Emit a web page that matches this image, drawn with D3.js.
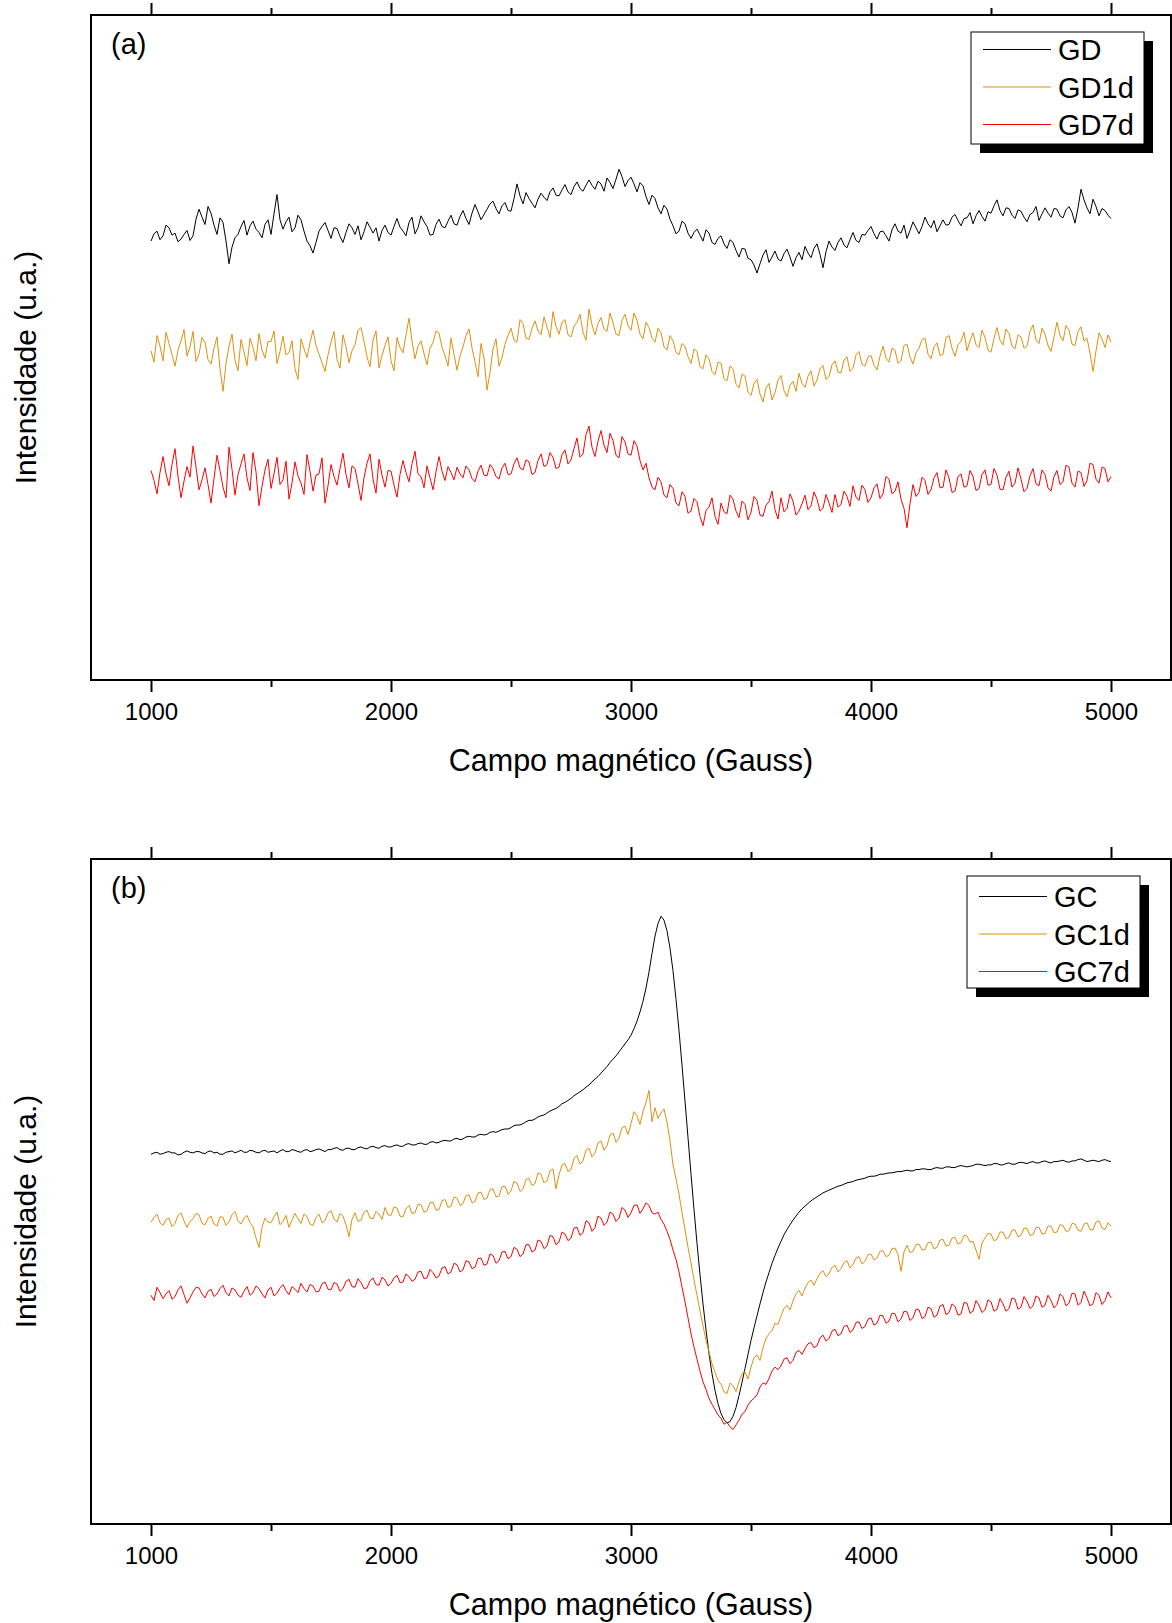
<!DOCTYPE html>
<html>
<head>
<meta charset="utf-8">
<script src="https://cdn.jsdelivr.net/npm/d3@7"></script>
<style>
  body { margin: 0; background: #fff; }
  svg text { font-family: Arial, "Liberation Sans", sans-serif; fill: #000; }
</style>
</head>
<body>
<svg id="chart" width="1172" height="1623"></svg>
<script>
// field sampled every 12.5 G, 1000..5000 (321 points)
var field = d3.range(1000, 5000.1, 12.5);
var xTicks = [1000, 2000, 3000, 4000, 5000];
var xMinor = [1500, 2500, 3500, 4500];

// panel (a) - arbitrary intensity units
var gd = [66.0,67.1,67.5,66.2,66.8,68.4,68.0,66.9,67.2,65.9,66.3,67.0,67.6,66.1,66.8,69.3,70.8,69.6,68.5,71.2,
  70.2,68.4,67.0,69.5,68.8,66.0,62.6,65.1,66.5,67.0,68.2,69.1,66.9,68.3,69.0,67.8,67.3,66.5,68.5,69.2,
  67.0,70.1,73.0,69.2,67.8,68.9,69.6,67.4,68.0,69.9,69.2,67.5,66.0,65.3,64.2,65.8,67.5,68.2,68.8,67.6,
  66.4,68.0,67.9,66.7,65.8,67.3,68.6,68.0,67.0,68.3,66.2,67.4,68.9,68.1,67.2,68.0,66.0,67.6,68.4,67.3,
  66.9,68.2,69.4,68.1,67.5,66.8,68.8,69.6,67.1,68.0,69.8,68.9,68.2,66.9,67.0,68.5,69.3,68.2,68.0,69.0,
  69.9,68.6,68.4,69.7,70.6,69.4,68.5,70.2,71.5,70.4,69.2,70.0,70.8,71.6,72.0,70.9,70.1,71.3,71.8,70.6,
  70.5,72.4,74.6,72.8,71.6,73.3,72.4,71.7,71.0,72.3,73.2,72.6,72.1,73.4,74.0,72.9,72.8,73.7,74.5,73.4,
  73.0,74.2,74.9,73.9,73.5,74.4,75.2,74.4,73.8,75.0,74.6,73.5,75.5,74.8,73.9,75.3,76.8,75.7,74.2,75.1,
  75.6,74.6,73.4,74.8,74.3,72.7,71.5,72.9,72.4,71.0,70.1,71.4,70.8,69.3,68.3,67.1,67.5,69.0,68.6,67.2,
  66.4,67.3,67.8,66.9,66.0,67.7,67.2,65.8,65.5,66.4,66.8,65.6,64.9,66.2,65.8,64.6,63.6,64.9,64.8,63.4,
  63.2,62.4,61.2,62.6,63.9,64.7,62.8,63.6,64.5,63.3,63.0,64.1,64.8,63.6,62.2,63.5,64.3,63.2,65.2,64.2,
  63.5,64.9,65.6,64.0,62.0,64.4,66.0,65.1,64.6,65.8,66.5,65.4,65.0,66.2,67.3,66.1,65.8,67.0,66.9,67.6,
  68.2,67.1,66.3,67.4,67.5,66.8,66.0,67.7,68.6,67.5,67.2,68.4,66.4,67.6,68.9,68.0,67.1,68.2,69.6,68.6,
  68.0,69.1,67.4,68.3,69.2,68.4,68.5,69.6,70.0,69.1,68.3,69.4,69.5,70.3,68.6,69.8,70.6,69.7,69.0,70.4,
  70.2,71.3,72.2,70.6,69.8,71.0,70.9,69.9,69.4,70.7,70.5,69.6,68.9,70.0,70.3,71.2,69.1,70.1,71.0,70.2,
  69.6,70.9,70.8,69.8,69.5,70.7,71.2,70.3,68.7,71.0,73.8,72.2,71.0,70.1,72.3,71.2,69.8,70.9,70.6,69.9,
  69.4];
var gd1d = [49.5,47.8,51.8,50.2,48.0,52.3,50.6,48.9,47.2,49.6,51.0,52.7,48.7,50.1,52.4,47.9,49.0,51.5,50.8,48.2,
  47.5,49.9,51.6,46.8,43.4,47.6,50.2,52.0,48.1,46.5,51.2,49.3,47.3,51.4,50.0,48.0,52.1,49.6,48.4,50.9,
  50.9,52.5,47.6,49.4,51.7,48.9,49.2,51.0,46.8,45.2,51.3,49.8,48.5,50.7,52.6,50.3,49.0,47.7,46.4,48.9,
  50.8,52.4,48.2,46.9,51.9,50.1,47.7,49.5,50.4,52.6,53.0,50.9,48.6,47.1,51.1,52.5,46.9,48.8,50.3,51.6,
  48.0,46.5,51.5,50.0,49.2,51.9,54.4,51.0,48.3,50.2,51.0,49.1,47.4,49.9,50.7,52.5,52.2,50.0,48.8,47.2,
  51.4,49.0,46.6,48.7,50.1,51.8,52.8,49.9,47.9,45.6,50.6,48.4,43.6,46.2,49.8,51.3,47.2,48.5,50.5,51.8,
  52.9,51.1,50.8,54.2,53.6,51.4,51.2,52.9,54.0,52.5,51.9,54.6,53.1,51.5,55.4,53.2,52.0,53.8,54.2,51.9,
  51.6,53.2,53.8,55.0,52.3,51.1,55.8,53.4,51.9,53.6,54.5,52.8,52.4,55.2,53.7,52.0,51.8,54.1,55.0,53.3,
  52.6,55.2,54.1,52.0,51.3,53.8,53.0,51.4,50.8,52.9,52.2,50.1,49.6,51.8,51.0,49.3,48.9,50.6,50.2,48.6,
  47.6,49.8,49.4,47.1,46.8,48.9,48.3,46.4,45.9,47.8,47.6,45.3,45.0,47.2,46.8,44.5,43.9,46.0,45.7,43.3,
  42.8,44.6,45.2,43.0,41.8,43.9,44.6,42.1,43.2,45.1,45.8,43.5,42.6,44.3,44.9,43.4,46.1,44.6,44.0,45.7,
  46.5,44.2,45.1,46.8,47.3,45.2,45.6,47.4,48.0,46.3,46.2,48.1,48.6,46.4,46.9,48.9,49.4,47.5,47.2,48.6,
  48.8,47.3,46.6,48.7,50.2,48.4,47.8,49.9,49.6,47.6,48.0,50.3,50.5,48.6,47.5,49.2,49.9,51.2,51.4,49.0,
  48.3,50.1,50.7,48.8,49.0,51.5,51.8,49.9,48.7,50.4,50.9,52.3,49.5,51.0,52.2,50.4,50.0,52.6,51.5,49.6,
  49.3,51.4,53.0,51.1,50.4,52.8,52.1,50.2,49.8,51.9,51.6,49.9,50.2,52.4,53.4,51.2,50.6,52.9,52.0,50.3,
  49.4,51.6,53.8,51.8,51.0,53.3,52.6,50.5,50.3,52.4,53.1,51.0,51.4,49.2,46.4,49.5,52.2,51.3,50.0,51.9,
  50.8];
var gd7d = [31.5,30.0,28.0,31.2,33.6,31.0,29.2,32.4,34.8,30.6,27.4,29.9,32.1,30.5,35.2,32.0,28.6,30.1,31.9,29.4,
  26.6,30.3,33.8,31.5,29.0,27.4,35.0,31.7,27.8,30.9,32.5,34.0,30.4,28.5,34.2,31.3,26.2,29.1,31.6,33.2,
  28.8,31.0,33.5,29.4,30.1,32.9,27.2,29.6,32.8,30.7,29.6,27.9,33.9,31.4,28.4,30.8,31.0,33.4,26.6,29.2,
  32.4,30.6,29.3,31.8,34.1,30.9,28.9,32.2,31.8,29.5,27.0,30.4,32.6,34.0,30.2,28.1,33.2,30.8,29.0,31.5,
  31.4,29.3,27.5,30.9,33.0,31.2,29.8,32.5,34.4,31.0,30.6,28.9,32.2,30.4,28.6,31.3,33.6,31.4,30.0,32.1,
  31.2,30.1,32.0,31.0,30.4,32.2,31.6,30.3,29.8,31.4,32.3,30.8,30.7,32.4,31.8,30.6,30.2,31.9,32.6,30.9,
  31.0,32.5,33.4,31.9,31.6,33.1,32.8,30.9,31.2,33.0,34.0,32.1,32.4,34.2,33.5,31.8,32.0,33.9,34.6,32.5,
  33.1,34.8,36.4,33.5,34.0,36.9,38.2,35.0,33.6,35.9,37.5,35.3,34.2,37.1,36.0,33.8,33.4,36.6,35.8,34.0,
  33.8,36.0,35.2,33.0,31.6,32.6,30.4,29.0,28.6,30.5,29.8,27.8,27.4,29.4,28.8,26.6,26.2,28.3,27.6,25.1,
  25.4,27.3,26.8,24.6,23.2,25.5,26.0,27.4,24.6,23.4,26.6,25.3,25.0,27.8,27.2,25.4,24.4,26.9,26.4,24.1,
  25.2,27.6,27.0,24.8,24.6,26.3,26.8,28.4,25.6,24.2,27.4,25.3,25.8,28.0,26.9,24.8,25.4,26.5,27.8,25.6,
  26.2,28.3,27.2,25.4,25.8,27.9,26.6,25.2,27.9,26.0,26.4,28.4,27.6,26.1,29.2,27.5,27.0,29.3,28.6,26.7,
  27.4,28.9,29.5,27.3,28.0,30.6,30.2,28.0,28.4,29.8,27.2,25.8,22.9,26.5,29.4,27.6,28.2,30.5,30.0,27.9,
  28.6,30.4,31.2,28.9,29.0,31.6,30.4,28.2,28.4,30.6,31.0,29.0,29.2,31.5,30.6,28.5,28.8,30.9,31.6,29.3,
  29.4,31.8,30.8,28.7,28.6,30.5,31.4,29.0,29.6,31.9,30.2,28.3,28.8,30.7,31.8,29.5,29.2,31.6,30.9,28.9,
  28.4,30.6,31.5,29.4,29.8,32.3,32.0,29.6,29.0,31.4,31.2,29.1,30.0,32.6,32.4,30.2,29.6,32.0,31.8,29.8,
  30.6];

// panel (b)
var gc = [55.6,55.8,55.9,55.6,55.7,55.9,56.0,55.8,55.8,55.5,55.6,55.9,56.1,55.9,55.8,56.0,56.0,55.8,55.7,56.0,
  56.1,55.8,55.9,55.6,55.6,55.9,56.0,56.1,55.8,56.0,56.2,55.9,55.9,56.2,56.1,55.9,55.8,56.1,56.2,55.9,
  56.0,56.1,55.8,56.1,56.3,56.0,56.0,56.3,56.2,56.0,55.9,56.2,56.3,56.0,56.1,56.3,56.4,56.2,56.0,56.3,
  56.3,56.5,56.6,56.3,56.2,56.5,56.5,56.3,56.3,56.6,56.7,56.5,56.4,56.7,56.8,56.6,56.5,56.8,56.9,56.7,
  56.7,56.9,57.0,56.8,56.8,57.1,57.2,57.0,57.0,57.2,57.3,57.1,57.1,57.4,57.5,57.3,57.4,57.6,57.7,57.6,
  57.6,57.9,58.0,57.8,57.9,58.2,58.3,58.2,58.2,58.5,58.6,58.5,58.6,58.9,59.0,58.9,59.1,59.3,59.4,59.4,
  59.6,59.9,60.0,60.0,60.2,60.5,60.7,60.7,60.9,61.2,61.4,61.5,61.8,62.1,62.3,62.5,62.8,63.2,63.4,63.7,
  64.0,64.4,64.7,65.0,65.3,65.7,66.0,66.5,66.9,67.3,67.8,68.3,68.8,69.4,69.9,70.4,71.0,71.6,72.2,72.8,
  73.5,74.5,75.6,77.0,78.6,80.6,83.0,85.8,88.4,90.3,91.4,90.8,89.2,86.6,83.2,78.9,74.2,69.0,63.6,58.1,
  52.6,47.3,42.2,37.5,33.1,29.2,25.6,22.6,20.1,18.1,16.6,15.7,15.2,15.4,16.2,17.5,19.3,21.3,23.4,25.5,
  27.6,29.5,31.3,33.1,34.8,36.4,37.8,39.2,40.4,41.5,42.5,43.5,44.3,45.0,45.7,46.3,46.9,47.4,47.8,48.2,
  48.6,48.9,49.2,49.5,49.8,50.0,50.2,50.4,50.6,50.8,50.9,51.1,51.3,51.4,51.5,51.7,51.8,51.9,52.0,52.2,
  52.3,52.3,52.4,52.6,52.6,52.7,52.8,52.8,52.9,53.0,53.0,53.1,53.2,53.1,53.1,53.3,53.3,53.4,53.4,53.3,
  53.3,53.5,53.6,53.5,53.5,53.7,53.7,53.6,53.6,53.8,53.9,53.8,53.7,53.8,53.9,54.1,54.1,54.0,53.9,54.0,
  54.0,54.2,54.2,54.0,54.0,54.2,54.3,54.1,54.1,54.3,54.4,54.3,54.2,54.4,54.5,54.3,54.3,54.5,54.6,54.4,
  54.3,54.5,54.5,54.6,54.7,54.5,54.4,54.6,54.6,54.8,54.9,54.7,54.5,54.6,54.7,54.6,54.5,54.7,54.8,54.6,
  54.5];
var gc1d = [45.4,46.1,46.6,45.3,44.9,45.8,46.0,44.7,45.2,46.4,46.8,45.6,44.6,45.5,45.9,46.7,46.5,45.2,45.0,46.0,
  46.3,45.1,44.8,46.2,46.1,44.9,45.4,46.5,47.0,45.6,45.1,46.0,46.4,45.3,44.7,43.0,41.6,44.6,46.0,45.4,
  45.3,46.2,46.9,45.0,45.5,46.4,44.6,45.7,46.7,45.9,45.2,46.6,46.2,45.1,44.9,46.1,46.6,45.3,45.6,46.8,
  47.1,45.9,45.4,46.7,46.3,45.0,43.2,45.8,46.8,45.5,45.7,46.9,47.2,46.0,45.9,47.0,46.6,45.8,47.6,46.5,
  46.4,47.7,47.5,46.3,46.2,47.4,47.9,46.7,46.8,48.1,48.0,46.9,47.1,48.3,48.4,47.2,47.3,48.6,48.8,47.6,
  47.8,49.2,49.0,47.9,48.2,49.4,49.5,48.3,48.5,49.8,49.9,48.8,49.0,50.3,50.4,49.2,49.3,50.7,50.8,49.6,
  50.1,51.5,51.3,50.0,50.4,51.8,52.0,50.9,51.2,52.8,52.6,51.3,51.6,53.1,53.4,50.4,52.5,54.0,54.2,53.0,
  53.3,55.0,55.4,54.1,54.6,56.2,56.5,55.2,55.8,57.3,57.6,56.2,56.9,58.5,58.8,57.4,58.0,59.6,59.8,58.6,
  60.2,62.0,61.4,60.1,62.0,63.4,65.2,60.5,62.6,61.0,61.8,62.4,60.4,57.6,54.0,51.9,49.6,46.8,44.3,41.6,
  39.2,36.7,34.4,32.0,29.8,27.6,25.9,24.1,22.8,21.6,21.0,19.9,19.6,21.2,20.8,19.9,21.4,22.6,22.9,21.8,
  23.6,25.0,25.4,24.6,26.5,27.9,28.6,29.1,30.2,30.0,31.3,32.4,32.9,32.2,33.6,34.6,35.1,34.3,35.5,36.3,
  36.7,35.9,36.9,37.7,38.1,37.2,37.6,38.6,38.9,37.9,38.4,39.3,39.6,38.5,39.0,40.0,40.2,39.1,39.5,40.5,
  40.6,39.7,40.0,41.0,41.1,40.2,40.4,41.4,41.5,40.5,38.0,40.9,41.9,40.8,41.0,42.0,42.1,41.2,41.3,42.3,
  42.4,41.4,41.6,42.7,42.8,41.8,41.9,43.0,43.1,42.1,42.3,43.4,43.3,42.4,42.5,41.2,39.8,42.3,43.0,43.7,
  43.6,42.6,42.8,43.9,43.9,42.9,43.1,44.2,44.2,43.2,43.4,44.5,44.4,43.4,43.5,44.6,44.6,43.6,43.7,44.8,
  44.8,43.8,43.9,45.0,44.9,44.0,44.1,45.2,45.1,44.2,44.0,45.1,45.3,44.3,44.2,45.4,45.6,44.5,44.3,45.3,
  44.8];
var gc7d = [34.4,33.6,35.6,34.8,33.9,34.6,35.1,33.8,34.2,35.2,35.8,34.5,33.2,34.0,34.9,35.6,35.5,34.6,34.0,35.0,
  35.3,34.2,34.6,35.4,35.9,34.8,34.3,35.5,35.2,34.4,34.1,35.0,35.7,34.4,34.8,35.8,35.4,34.6,34.0,35.2,
  35.6,34.3,34.7,35.5,36.0,35.1,34.5,35.7,35.3,34.8,36.2,35.4,34.9,36.0,35.8,34.9,35.0,36.1,36.4,35.3,
  35.2,36.3,36.1,35.0,35.4,36.5,36.8,35.7,35.6,36.9,36.3,35.4,35.5,36.6,37.0,36.0,35.9,37.1,36.7,35.8,
  36.2,37.0,37.4,36.3,36.4,37.6,37.2,36.5,36.8,37.9,38.0,36.9,37.0,38.3,37.8,37.0,37.3,38.5,38.7,37.6,
  37.9,39.2,39.0,37.9,38.2,39.6,39.4,38.4,38.6,39.9,40.0,38.9,39.1,40.6,40.4,39.2,39.6,40.9,41.0,39.9,
  40.2,41.6,41.3,40.2,40.6,42.0,42.0,40.9,41.2,42.7,42.5,41.4,41.8,43.4,43.2,42.0,42.4,43.9,43.6,42.6,
  43.0,44.5,44.6,43.4,43.8,45.6,45.3,44.0,44.6,46.3,46.0,44.9,45.4,46.9,46.6,45.5,46.0,47.6,47.2,46.1,
  46.8,47.9,48.0,46.7,47.4,48.3,47.9,46.8,46.6,46.9,45.8,45.1,44.0,42.8,41.2,39.8,37.9,35.6,33.4,31.0,
  28.6,26.6,24.8,23.0,21.4,20.2,18.9,18.0,17.2,16.4,15.9,15.0,15.3,14.6,14.2,14.9,15.6,16.5,16.9,17.9,
  18.5,18.9,19.4,20.6,21.2,21.0,21.9,23.0,23.6,23.2,23.8,24.8,25.0,24.1,24.6,25.8,26.1,25.5,26.4,27.1,
  27.3,26.5,26.8,28.0,28.4,27.5,27.9,29.0,29.3,28.3,28.6,29.7,29.9,28.8,29.2,30.3,30.4,29.4,29.7,30.8,
  31.0,29.9,30.2,31.4,31.3,30.2,30.5,31.7,31.6,30.4,30.8,32.0,31.9,30.6,31.0,32.3,32.2,30.9,31.2,32.6,
  32.4,31.1,31.4,32.8,33.0,31.5,31.8,33.1,32.7,31.4,31.6,33.3,33.2,31.7,32.0,33.6,32.9,31.8,32.2,33.7,
  33.4,32.0,32.3,33.9,33.1,32.0,32.4,34.0,33.8,32.3,32.6,34.2,33.5,32.4,32.8,34.3,34.0,32.6,32.9,34.4,
  33.6,32.5,33.0,34.6,34.2,32.8,33.2,34.7,34.6,32.9,33.3,35.0,34.0,32.8,33.1,34.8,34.4,33.0,33.6,34.9,
  34.0];

var colors = {black: '#000000', orange: '#e0900e', red: '#ff0000'};

var panels = [
    {tag: '(a)', top: 15, legendX: 971, rowY0: 17.5,
     series: [{name: 'GD', values: gd, color: colors.black},
              {name: 'GD1d', values: gd1d, color: colors.orange},
              {name: 'GD7d', values: gd7d, color: colors.red}]},
    {tag: '(b)', top: 859, legendX: 967, rowY0: 20.5,
     series: [{name: 'GC', values: gc, color: colors.black},
              {name: 'GC1d', values: gc1d, color: colors.orange},
              {name: 'GC7d', values: gc7d, color: colors.red}]}
];

var svg = d3.select('#chart');
var plotLeft = 91, plotRight = 1171, plotH = 665;

var x = d3.scaleLinear().domain([750, 5250]).range([plotLeft, plotRight]);
var y = d3.scaleLinear().domain([0, 100]).range([plotH, 0]);

function styleAxis(g) {
    g.select('.domain').remove();
    g.selectAll('.tick line').attr('stroke', '#000').attr('stroke-width', 2);
    g.selectAll('.tick text').attr('font-size', 24).attr('fill', '#000')
        .style('font-family', 'Arial, "Liberation Sans", sans-serif');
}

function drawPanel(p) {
    var g = svg.append('g').attr('transform', 'translate(0,' + p.top + ')');

    // bottom axis, labelled majors + minors
    g.append('g').attr('transform', 'translate(0,' + plotH + ')')
        .call(d3.axisBottom(x).tickValues(xTicks).tickSize(12).tickSizeOuter(0).tickPadding(11)
              .tickFormat(d3.format('d')))
        .call(styleAxis);
    g.append('g').attr('transform', 'translate(0,' + plotH + ')')
        .call(d3.axisBottom(x).tickValues(xMinor).tickSize(7).tickSizeOuter(0).tickFormat(''))
        .call(styleAxis);
    // top axis, ticks only
    g.append('g')
        .call(d3.axisTop(x).tickValues(xTicks).tickSize(12).tickSizeOuter(0).tickFormat(''))
        .call(styleAxis);
    g.append('g')
        .call(d3.axisTop(x).tickValues(xMinor).tickSize(7).tickSizeOuter(0).tickFormat(''))
        .call(styleAxis);

    var line = d3.line()
        .x(function (d, i) { return x(field[i]); })
        .y(function (d) { return y(d); });

    p.series.forEach(function (s) {
        g.append('path')
            .datum(s.values)
            .attr('fill', 'none')
            .attr('stroke', s.color)
            .attr('stroke-width', 1)
            .attr('stroke-linejoin', 'round')
            .attr('d', line);
    });

    // frame
    g.append('rect')
        .attr('x', plotLeft).attr('y', 0)
        .attr('width', plotRight - plotLeft).attr('height', plotH)
        .attr('fill', 'none').attr('stroke', '#000').attr('stroke-width', 2);

    g.append('text').attr('x', 111).attr('y', 39)
        .attr('font-size', 29).text(p.tag);

    // axis titles
    g.append('text')
        .attr('x', (plotLeft + plotRight) / 2).attr('y', plotH + 91)
        .attr('text-anchor', 'middle').attr('font-size', 30.5)
        .text('Campo magnético (Gauss)');
    g.append('text')
        .attr('transform', 'translate(36,' + (plotH / 2 + 20) + ') rotate(-90)')
        .attr('text-anchor', 'middle').attr('font-size', 30)
        .text('Intensidade (u.a.)');

    // legend with drop shadow
    var lx = p.legendX, ly = 17, lw = 173, lh = 112, rowH = 37.5;
    var leg = g.append('g').attr('transform', 'translate(' + lx + ',' + ly + ')');
    leg.append('rect').attr('x', 9).attr('y', 9).attr('width', lw).attr('height', lh).attr('fill', '#000');
    leg.append('rect').attr('width', lw).attr('height', lh)
        .attr('fill', '#fff').attr('stroke', '#000').attr('stroke-width', 1);
    p.series.forEach(function (s, i) {
        var cy = p.rowY0 + i * rowH;
        leg.append('line').attr('x1', 12).attr('x2', 80).attr('y1', cy).attr('y2', cy)
            .attr('stroke', s.color).attr('stroke-width', 1.1);
        leg.append('text').attr('x', 87).attr('y', cy + 10.5)
            .attr('font-size', 29).text(s.name);
    });
}

panels.forEach(drawPanel);
</script>
</body>
</html>
